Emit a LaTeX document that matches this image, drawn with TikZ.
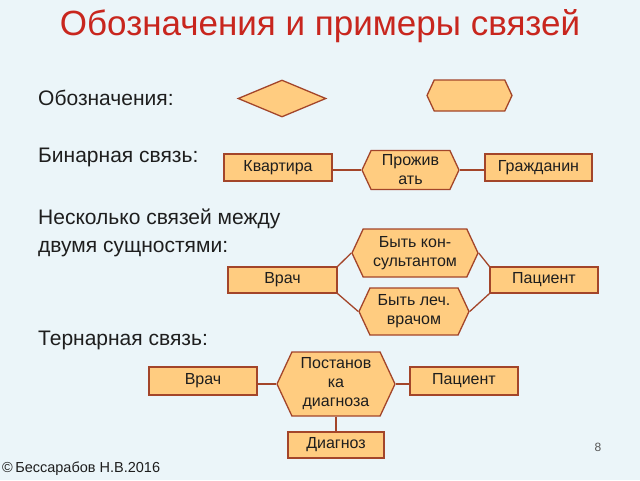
\documentclass[tikz,border=0pt]{standalone}
\usepackage{fontspec}
\setmainfont{Liberation Sans}
\usetikzlibrary{shapes.geometric,shapes.symbols}
\definecolor{bgc}{HTML}{EBF5F9}
\definecolor{fillc}{HTML}{FFCC80}
\definecolor{edgec}{HTML}{A3452A}
\definecolor{titlec}{HTML}{C8261E}
\definecolor{textc}{HTML}{1E1E1E}
\tikzset{
  ent/.style={draw=edgec, fill=fillc, line width=1.3pt, rectangle, inner sep=0pt,
    font=\fontsize{16}{19}\selectfont, text=textc},
  rel/.style={draw=edgec, fill=fillc, line width=1.3pt, signal, signal to=west and east,
    signal pointer angle=130, inner sep=0pt, align=center,
    font=\fontsize{16}{19}\selectfont, text=textc},
  conn/.style={draw=edgec, line width=1.3pt},
  body/.style={anchor=west, inner sep=0pt, font=\fontsize{21}{25}\selectfont, text=textc},
}
\begin{document}
\begin{tikzpicture}[x=1pt,y=-1pt]
\fill[bgc] (0,0) rectangle (640,480);
\useasboundingbox (0,0) rectangle (640,480);

\node[font=\fontsize{35}{40}\selectfont, text=titlec] (title) at (320,26) {Обозначения и примеры связей};

\node[body] (t1) at (38,98) {Обозначения:};
\node[body] (t2) at (38,157) {Бинарная связь:};
\node[body] (t3) at (38,219) {Несколько связей между};
\node[body] (t4) at (38,249) {двумя сущностями:};
\node[body] (t5) at (38,340) {Тернарная связь:};

% legend
\node[draw=edgec, fill=fillc, line width=1.3pt, diamond, minimum width=88pt, minimum height=37pt, inner sep=0pt] (ldia) at (282,98.5) {};
\node[rel, minimum width=85pt, minimum height=31pt] (lhex) at (469.5,95.5) {};

% binary
\node[ent, minimum width=108pt, minimum height=27pt] (kv) at (278,167.5) {Квартира};
\node[rel, minimum width=97pt, minimum height=39pt] (prozh) at (410.5,170) {Прожив\\ать};
\node[ent, minimum width=107pt, minimum height=27pt] (grazh) at (538.5,167.5) {Гражданин};
\draw[conn] (prozh.west) -- (kv.east |- prozh.west);
\draw[conn] (prozh.east) -- (grazh.west |- prozh.east);

% several
\node[rel, minimum width=126pt, minimum height=48pt] (cons) at (415,253) {Быть кон-\\сультантом};
\node[rel, minimum width=110pt, minimum height=47pt] (lech) at (414,311.5) {Быть леч.\\врачом};
\node[ent, minimum width=109pt, minimum height=26pt] (vr2) at (282.5,280) {Врач};
\node[ent, minimum width=108pt, minimum height=26pt] (pc2) at (544,280) {Пациент};
\draw[conn] (vr2.north east) -- (cons.west);
\draw[conn] (vr2.south east) -- (lech.west);
\draw[conn] (cons.east) -- (pc2.north west);
\draw[conn] (lech.east) -- (pc2.south west);

% ternary
\node[rel, minimum width=118pt, minimum height=64pt] (post) at (336,384) {Постанов\\ка\\диагноза};
\node[ent, minimum width=108pt, minimum height=28pt] (vr3) at (203,381) {Врач};
\node[ent, minimum width=108pt, minimum height=28pt] (pc3) at (464,381) {Пациент};
\node[ent, minimum width=96pt, minimum height=26pt] (diag) at (336,445) {Диагноз};
\draw[conn] (post.west) -- (vr3.east |- post.west);
\draw[conn] (post.east) -- (pc3.west |- post.east);
\draw[conn] (post.south) -- (diag.north);

\node[font=\fontsize{12}{14}\selectfont, text=textc!75] (pnum) at (598,447) {8};
\node[anchor=west, inner sep=0pt, font=\fontsize{14.5}{16}\selectfont, text=textc] (foot) at (2,469) {©\,Бессарабов Н.В.2016};
\end{tikzpicture}
\end{document}
